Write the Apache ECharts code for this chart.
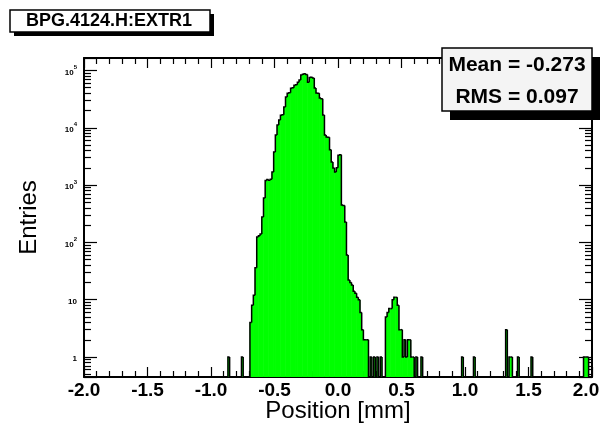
<!DOCTYPE html>
<html>
<head>
<meta charset="utf-8">
<script src="https://cdn.jsdelivr.net/npm/echarts@6/dist/echarts.min.js"></script>
<style>
  html, body { margin: 0; padding: 0; background: #ffffff; }
  #chart { width: 603px; height: 427px; }
</style>
</head>
<body>
<div id="chart"></div>
<script>
// Histogram definition: 300 equal bins between -2 and 2 mm
const histName = 'BPG.4124.H:EXTR1';
const xTitle = 'Position [mm]';
const yTitle = 'Entries';
const nBins = 300;
const xLow = -2.0;
const xHigh = 2.0;

// Contiguous block of bins around the beam core, starting at bin index 98
const coreFirstBin = 98;
const coreEntries = [
  4, 8, 12, 36, 124, 130, 140, 277, 595, 1200,
  1250, 1220, 1260, 1700, 3780, 7490, 11200, 13700, 16500, 16900,
  23000, 34500, 40000, 41000, 49000, 50000, 55000, 56500, 62000, 68000,
  83400, 86000, 88000, 85000, 62000, 75000, 76000, 74000, 49500, 40500,
  40000, 33000, 32000, 16700, 7500, 6900, 6800, 4150, 2530, 1990,
  1700, 2000, 3300, 3400, 450, 440, 226, 60, 22, 20,
  18, 14, 13, 11, 10, 6, 3, 2, 2, 2,
  0, 1, 0, 1, 0, 1, 0, 1, 0, 0,
  5, 6, 7, 7, 10, 11, 11, 8, 3, 3,
  1, 2, 1, 2, 2, 1, 1, 0, 1, 0,
  0, 1
];

// Isolated entries away from the core
const strayBins = [85, 93, 223, 230, 249, 251, 252, 256, 264, 295, 296, 297];
const strayEntries = [1, 1, 1, 1, 3, 1, 1, 1, 1, 1, 1, 1];

// Statistics box lines
const statLines = ['Mean = -0.273', 'RMS = 0.097'];

// Axis ranges
const yMin = 0.448;
const yMax = 165000;
const xTickStep = 0.5;

// Full bin contents
const counts = new Array(nBins).fill(0);
coreEntries.forEach((c, i) => { counts[coreFirstBin + i] = c; });
strayBins.forEach((b, i) => { counts[b] = strayEntries[i]; });

const binW = (xHigh - xLow) / nBins;
const histData = counts.map((c, i) => [
  xLow + i * binW,
  xLow + (i + 1) * binW,
  c,
  i > 0 ? counts[i - 1] : 0
]);

const FONT = '"Liberation Sans", Arial, Helvetica, sans-serif';

function yPix(api, x, c) {
  return api.coord([x, c > 0 ? c : yMin])[1];
}

// green body of one bin
function renderFill(params, api) {
  const x0 = api.value(0), x1 = api.value(1), c = api.value(2);
  if (!(c > 0)) return null;
  const pa = api.coord([x0, yMin]);
  const pb = api.coord([x1, yMin]);
  const yt = yPix(api, x0, c);
  return {
    type: 'rect',
    shape: { x: pa[0] - 0.3, y: yt, width: pb[0] - pa[0] + 0.6, height: pa[1] - yt },
    style: { fill: '#00ff00' }
  };
}

// step contour: rise/fall from the previous bin, then the bin top
function renderOutline(params, api) {
  const x0 = api.value(0), x1 = api.value(1), c = api.value(2), pc = api.value(3);
  const pa = api.coord([x0, yMin]);
  const pb = api.coord([x1, yMin]);
  const yt = yPix(api, x0, c);
  const yp = yPix(api, x0, pc);
  return {
    type: 'polyline',
    shape: { points: [[pa[0], yp], [pa[0], yt], [pb[0], yt]] },
    style: { stroke: '#000000', lineWidth: 1.5, fill: null }
  };
}

const axisLineStyle = { color: '#000000', width: 2 };
const tickStyle = { color: '#000', width: 1.2 };

function yLabel(v) {
  const lg = Math.log10(v);
  const e = Math.round(lg);
  if (Math.abs(lg - e) > 1e-6) return '';
  if (e === 0) return '{b|1}';
  if (e === 1) return '{b|10}';
  return '{b|10}{s|' + e + '}';
}

function xLabel(v) {
  const t = v.toFixed(1);
  return v >= xHigh ? '{r|' + t + '}' : '{n|' + t + '}';
}

const xLabelText = { fontFamily: FONT, fontWeight: 'bold', fontSize: 19, color: '#000' };

const chart = echarts.init(document.getElementById('chart'), null, { renderer: 'canvas' });

chart.setOption({
  animation: false,
  backgroundColor: '#ffffff',
  grid: { left: 84, top: 58, right: 11, bottom: 50, containLabel: false, outerBoundsMode: 'none' },
  xAxis: [
    {
      type: 'value', min: xLow, max: xHigh, interval: xTickStep, position: 'bottom',
      axisLine: { show: true, onZero: false, lineStyle: axisLineStyle },
      axisTick: { show: true, inside: true, length: 10, lineStyle: tickStyle },
      minorTick: { show: true, splitNumber: 5, length: 6, lineStyle: tickStyle },
      splitLine: { show: false },
      axisLabel: {
        margin: 4, formatter: xLabel,
        rich: {
          n: xLabelText,
          r: Object.assign({ padding: [0, 12, 0, 0] }, xLabelText)
        }
      },
      name: xTitle, nameLocation: 'middle', nameGap: 22, nameMoveOverlap: false,
      nameTextStyle: { color: '#000', fontFamily: FONT, fontSize: 24, verticalAlign: 'top' }
    },
    {
      type: 'value', min: xLow, max: xHigh, interval: xTickStep, position: 'top',
      axisLine: { show: true, onZero: false, lineStyle: axisLineStyle },
      axisTick: { show: true, inside: true, length: 10, lineStyle: tickStyle },
      minorTick: { show: true, splitNumber: 5, length: 6, lineStyle: tickStyle },
      splitLine: { show: false },
      axisLabel: { show: false }
    }
  ],
  yAxis: [
    {
      type: 'log', logBase: 10, min: yMin, max: yMax, position: 'left',
      axisLine: { show: true, onZero: false, lineStyle: axisLineStyle },
      axisTick: { show: true, inside: true, length: 13, lineStyle: tickStyle },
      minorTick: { show: true, splitNumber: 9, length: 7, lineStyle: tickStyle },
      splitLine: { show: false },
      axisLabel: {
        showMinLabel: false, showMaxLabel: false, margin: 7,
        formatter: yLabel,
        rich: {
          b: { fontFamily: FONT, fontWeight: 'bold', fontSize: 8, color: '#000', lineHeight: 12, verticalAlign: 'bottom' },
          s: { fontFamily: FONT, fontWeight: 'bold', fontSize: 6, color: '#000', lineHeight: 7, verticalAlign: 'top' }
        }
      },
      name: yTitle, nameLocation: 'middle', nameGap: 43, nameRotate: 90, nameMoveOverlap: false,
      nameTextStyle: { color: '#000', fontFamily: FONT, fontSize: 24 }
    },
    {
      type: 'log', logBase: 10, min: yMin, max: yMax, position: 'right',
      axisLine: { show: true, onZero: false, lineStyle: axisLineStyle },
      axisTick: { show: true, inside: true, length: 13, lineStyle: tickStyle },
      minorTick: { show: true, splitNumber: 9, length: 7, lineStyle: tickStyle },
      splitLine: { show: false },
      axisLabel: { show: false }
    }
  ],
  series: [
    {
      type: 'custom', name: 'fill', xAxisIndex: 0, yAxisIndex: 0,
      data: histData, encode: { x: [0, 1], y: [2] },
      renderItem: renderFill, clip: true, z: 2
    },
    {
      type: 'custom', name: 'outline', xAxisIndex: 0, yAxisIndex: 0,
      data: histData, encode: { x: [0, 1], y: [2] },
      renderItem: renderOutline, clip: true, z: 3
    }
  ],
  graphic: [
    // title pave
    { type: 'rect', z: 100, shape: { x: 14, y: 14, width: 200, height: 22 }, style: { fill: '#000' } },
    { type: 'rect', z: 101, shape: { x: 10, y: 10, width: 200, height: 22 }, style: { fill: '#fff', stroke: '#000', lineWidth: 1.5 } },
    { type: 'text', z: 102, style: { text: histName, x: 109, y: 21, align: 'center', verticalAlign: 'middle', font: 'bold 18px ' + FONT, fill: '#000' } },
    // statistics box
    { type: 'rect', z: 100, shape: { x: 450, y: 57, width: 150, height: 63 }, style: { fill: '#000' } },
    { type: 'rect', z: 101, shape: { x: 442, y: 48, width: 150, height: 63 }, style: { fill: '#f4f4f4', stroke: '#000', lineWidth: 1.5 } },
    { type: 'text', z: 102, style: { text: statLines[0], x: 517, y: 65, align: 'center', verticalAlign: 'middle', font: 'bold 21px ' + FONT, fill: '#000' } },
    { type: 'text', z: 102, style: { text: statLines[1], x: 517, y: 97, align: 'center', verticalAlign: 'middle', font: 'bold 21px ' + FONT, fill: '#000' } }
  ]
});
</script>
</body>
</html>
